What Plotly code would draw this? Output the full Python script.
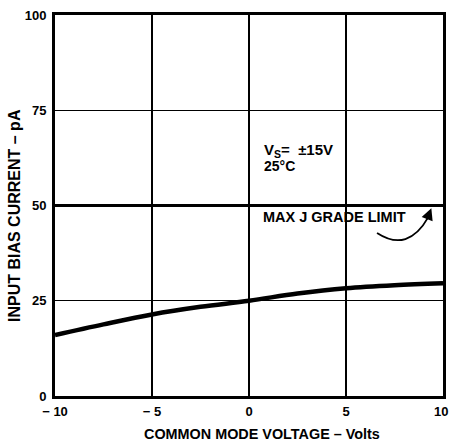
import plotly.graph_objects as go

# Data
voltage = [-10, -7.5, -5, -2.5, 0, 2.5, 5, 7.5, 10]
bias_current = [16.0, 18.8, 21.4, 23.4, 25.0, 26.9, 28.3, 29.1, 29.6]
limit_x = [-10, 10]
limit_y = [50, 50]
x_ticks = [-10, -5, 0, 5, 10]
x_ticklabels = ["<b>\u2212 10</b>", "<b>\u2212 5</b>", "<b>0</b>", "<b>5</b>", "<b>10</b>&nbsp;"]
y_ticks = [0, 25, 50, 75, 100]
y_ticklabels = ["<b>0</b>", "<b>25</b>", "<b>50</b>", "<b>75</b>", "<b>100</b>"]

font_family = "Liberation Sans, Arial, sans-serif"

W, H = 449, 442
ML, MR, MT, MB = 55, 6, 15, 46
pw, ph = W - ML - MR, H - MT - MB

fig = go.Figure()
fig.add_trace(go.Scatter(x=limit_x, y=limit_y, mode="lines",
                         line=dict(color="black", width=3), showlegend=False,
                         hoverinfo="skip"))
fig.add_trace(go.Scatter(x=voltage, y=bias_current, mode="lines",
                         line=dict(color="black", width=4.5, shape="spline"),
                         showlegend=False, hoverinfo="skip"))

# curved arrow indicating the limit line
fig.add_shape(type="path", path="M 6.6,42.8 Q 8.2,37.5 9.25,47.0",
              xref="x", yref="y", line=dict(color="black", width=1.8))
fig.add_annotation(x=9.4, y=49.3, ax=9.15, ay=46.0, xref="x", yref="y",
                   axref="x", ayref="y", showarrow=True, arrowhead=2,
                   arrowsize=1.3, arrowwidth=1.8, arrowcolor="black", text="")

fig.add_annotation(x=0.65, y=64.5, xref="x", yref="y", xanchor="left", yanchor="middle",
                   showarrow=False, align="left",
                   text="<b>V<sub>S</sub>=  \u00b115V</b>",
                   font=dict(family=font_family, size=15, color="black"))
fig.add_annotation(x=0.65, y=60.4, xref="x", yref="y", xanchor="left", yanchor="middle",
                   showarrow=False, align="left",
                   text="<b>25\u00b0C</b>",
                   font=dict(family=font_family, size=14, color="black"))
fig.add_annotation(x=0.6, y=47.0, xref="x", yref="y", xanchor="left", yanchor="middle",
                   showarrow=False, text="<b>MAX J GRADE LIMIT</b>",
                   font=dict(family=font_family, size=14.5, color="black"))

# axis titles (positioned in paper coordinates)
fig.add_annotation(x=(262 - ML) / pw, y=(H - 434 - MB) / ph, xref="paper", yref="paper",
                   xanchor="center", yanchor="middle", showarrow=False,
                   text="<b>COMMON MODE VOLTAGE \u2013 Volts</b>",
                   font=dict(family=font_family, size=14.4, color="black"))
fig.add_annotation(x=(15 - ML) / pw, y=(H - 216 - MB) / ph, xref="paper", yref="paper",
                   xanchor="center", yanchor="middle", textangle=-90, showarrow=False,
                   text="<b>INPUT BIAS CURRENT \u2013 pA</b>",
                   font=dict(family=font_family, size=16, color="black"))

fig.update_layout(
    width=W, height=H,
    margin=dict(l=ML, r=MR, t=MT, b=MB),
    paper_bgcolor="white", plot_bgcolor="white",
    font=dict(family=font_family, color="black"),
)
fig.update_xaxes(range=[-10, 10], tickvals=x_ticks, ticktext=x_ticklabels,
                 showgrid=True, gridcolor="black", gridwidth=1.5,
                 showline=True, linecolor="black", linewidth=3, mirror=True,
                 zeroline=False, ticks="", automargin=False, ticklabelstandoff=1,
                 ticklabeloverflow="allow",
                 tickfont=dict(family=font_family, size=13, color="black"))
fig.update_yaxes(range=[0, 100], tickvals=y_ticks, ticktext=y_ticklabels,
                 showgrid=True, gridcolor="black", gridwidth=1.1,
                 showline=True, linecolor="black", linewidth=3, mirror=True,
                 zeroline=False, ticks="", automargin=False, ticklabelstandoff=3,
                 ticklabeloverflow="allow",
                 tickfont=dict(family=font_family, size=13, color="black"))

fig.write_html("out.html", config={"displayModeBar": False},
               post_script="document.body.style.margin='0';document.body.style.overflow='hidden';")
